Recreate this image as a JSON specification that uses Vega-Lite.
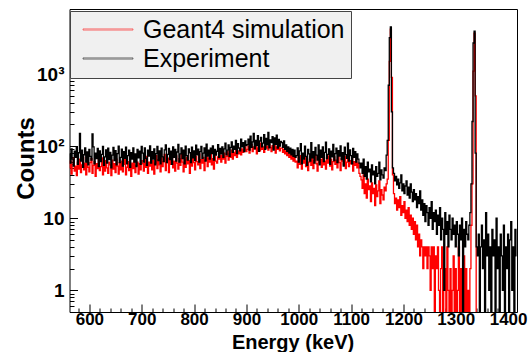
{
  "$schema": "https://vega.github.io/schema/vega-lite/v6.json",
  "width": 447.5,
  "height": 303,
  "autosize": {"type": "none"},
  "padding": {"left": 69.5, "top": 9, "right": 15, "bottom": 40},
  "data": {"values": [
{"e":562,"g":50,"x":78},{"e":564,"g":62,"x":58},{"e":566,"g":41,"x":92},{"e":568,"g":56,"x":66},{"e":570,"g":68,"x":53},
{"e":572,"g":45,"x":85},{"e":574,"g":53,"x":70},{"e":576,"g":39,"x":97},{"e":578,"g":60,"x":56},{"e":580,"g":48,"x":81},
{"e":582,"g":66,"x":150},{"e":584,"g":43,"x":62},{"e":586,"g":55,"x":88},{"e":588,"g":70,"x":51},{"e":590,"g":47,"x":76},
{"e":592,"g":58,"x":95},{"e":594,"g":40,"x":60},{"e":596,"g":63,"x":83},{"e":598,"g":51,"x":55},{"e":600,"g":44,"x":90},
{"e":602,"g":59,"x":72},{"e":604,"g":67,"x":64},{"e":606,"g":42,"x":148},{"e":608,"g":54,"x":98},{"e":610,"g":61,"x":57},
{"e":612,"g":38,"x":80},{"e":614,"g":57,"x":67},{"e":616,"g":49,"x":93},{"e":618,"g":65,"x":52},{"e":620,"g":46,"x":86},
{"e":622,"g":52,"x":61},{"e":624,"g":69,"x":77},{"e":626,"g":40,"x":99},{"e":628,"g":58,"x":54},{"e":630,"g":45,"x":71},
{"e":632,"g":63,"x":89},{"e":634,"g":50,"x":58},{"e":636,"g":42,"x":94},{"e":638,"g":60,"x":65},{"e":640,"g":55,"x":82},
{"e":642,"g":39,"x":50},{"e":644,"g":64,"x":75},{"e":646,"g":48,"x":96},{"e":648,"g":57,"x":63},{"e":650,"g":43,"x":87},
{"e":652,"g":66,"x":55},{"e":654,"g":53,"x":79},{"e":656,"g":41,"x":100},{"e":658,"g":59,"x":59},{"e":660,"g":47,"x":70},
{"e":662,"g":62,"x":91},{"e":664,"g":44,"x":53},{"e":666,"g":56,"x":84},{"e":668,"g":68,"x":68},{"e":670,"g":40,"x":97},
{"e":672,"g":51,"x":57},{"e":674,"g":61,"x":74},{"e":676,"g":46,"x":88},{"e":678,"g":55,"x":51},{"e":680,"g":38,"x":81},
{"e":682,"g":58,"x":66},{"e":684,"g":49,"x":95},{"e":686,"g":65,"x":60},{"e":688,"g":43,"x":78},{"e":690,"g":54,"x":52},
{"e":692,"g":60,"x":90},{"e":694,"g":41,"x":69},{"e":696,"g":57,"x":85},{"e":698,"g":47,"x":56},{"e":700,"g":63,"x":99},
{"e":702,"g":57,"x":80},{"e":704,"g":45,"x":60},{"e":706,"g":66,"x":95},{"e":708,"g":51,"x":68},{"e":710,"g":72,"x":54},
{"e":712,"g":42,"x":88},{"e":714,"g":60,"x":73},{"e":716,"g":53,"x":101},{"e":718,"g":70,"x":58},{"e":720,"g":47,"x":84},
{"e":722,"g":63,"x":66},{"e":724,"g":41,"x":92},{"e":726,"g":58,"x":55},{"e":728,"g":74,"x":79},{"e":730,"g":49,"x":99},
{"e":732,"g":65,"x":63},{"e":734,"g":55,"x":86},{"e":736,"g":44,"x":57},{"e":738,"g":69,"x":94},{"e":740,"g":52,"x":71},
{"e":742,"g":61,"x":61},{"e":744,"g":77,"x":89},{"e":746,"g":46,"x":104},{"e":748,"g":59,"x":59},{"e":750,"g":68,"x":77},
{"e":752,"g":43,"x":93},{"e":754,"g":64,"x":65},{"e":756,"g":56,"x":85},{"e":758,"g":71,"x":56},{"e":760,"g":50,"x":98},
{"e":762,"g":62,"x":70},{"e":764,"g":45,"x":90},{"e":766,"g":73,"x":62},{"e":768,"g":58,"x":83},{"e":770,"g":48,"x":106},
{"e":772,"g":67,"x":60},{"e":774,"g":54,"x":78},{"e":776,"g":76,"x":95},{"e":778,"g":60,"x":67},{"e":780,"g":44,"x":88},
{"e":782,"g":66,"x":57},{"e":784,"g":51,"x":100},{"e":786,"g":70,"x":74},{"e":788,"g":57,"x":64},{"e":790,"g":63,"x":92},
{"e":792,"g":42,"x":81},{"e":794,"g":75,"x":59},{"e":796,"g":53,"x":97},{"e":798,"g":68,"x":69},{"e":800,"g":59,"x":86},
{"e":802,"g":47,"x":63},{"e":804,"g":72,"x":103},{"e":806,"g":61,"x":76},{"e":808,"g":55,"x":91},{"e":810,"g":78,"x":60},
{"e":812,"g":49,"x":84},{"e":814,"g":65,"x":99},{"e":816,"g":58,"x":68},{"e":818,"g":70,"x":80},{"e":820,"g":46,"x":95},
{"e":822,"g":64,"x":62},{"e":824,"g":74,"x":107},{"e":826,"g":52,"x":73},{"e":828,"g":69,"x":88},{"e":830,"g":60,"x":66},
{"e":832,"g":77,"x":94},{"e":834,"g":55,"x":79},{"e":836,"g":67,"x":101},{"e":838,"g":48,"x":64},{"e":840,"g":73,"x":90},
{"e":842,"g":62,"x":75},{"e":844,"g":58,"x":85},{"e":846,"g":71,"x":105},{"e":848,"g":66,"x":70},{"e":850,"g":75,"x":93},
{"e":852,"g":60,"x":78},{"e":854,"g":75,"x":98},{"e":856,"g":66,"x":70},{"e":858,"g":80,"x":92},{"e":860,"g":58,"x":110},
{"e":862,"g":72,"x":76},{"e":864,"g":84,"x":88},{"e":866,"g":64,"x":104},{"e":868,"g":78,"x":72},{"e":870,"g":70,"x":96},
{"e":872,"g":88,"x":115},{"e":874,"g":66,"x":82},{"e":876,"g":82,"x":100},{"e":878,"g":74,"x":90},{"e":880,"g":90,"x":120},
{"e":882,"g":70,"x":79},{"e":884,"g":86,"x":108},{"e":886,"g":78,"x":94},{"e":888,"g":94,"x":86},{"e":890,"g":76,"x":125},
{"e":892,"g":92,"x":98},{"e":894,"g":82,"x":112},{"e":896,"g":88,"x":84},{"e":898,"g":98,"x":118},{"e":900,"g":84,"x":102},
{"e":902,"g":90,"x":105},{"e":904,"g":100,"x":125},{"e":906,"g":80,"x":88},{"e":908,"g":96,"x":138},{"e":910,"g":105,"x":96},
{"e":912,"g":84,"x":115},{"e":914,"g":98,"x":150},{"e":916,"g":92,"x":92},{"e":918,"g":108,"x":120},{"e":920,"g":78,"x":102},
{"e":922,"g":95,"x":140},{"e":924,"g":102,"x":85},{"e":926,"g":86,"x":118},{"e":928,"g":110,"x":132},{"e":930,"g":90,"x":98},
{"e":932,"g":98,"x":110},{"e":934,"g":82,"x":145},{"e":936,"g":104,"x":90},{"e":938,"g":94,"x":128},{"e":940,"g":100,"x":104},
{"e":942,"g":88,"x":155},{"e":944,"g":106,"x":95},{"e":946,"g":96,"x":122},{"e":948,"g":84,"x":112},{"e":950,"g":102,"x":136},
{"e":952,"g":92,"x":88},{"e":954,"g":108,"x":130},{"e":956,"g":80,"x":106},{"e":958,"g":98,"x":142},{"e":960,"g":90,"x":94},
{"e":962,"g":100,"x":124},{"e":964,"g":86,"x":100},{"e":966,"g":94,"x":116},{"e":968,"g":94,"x":112},{"e":970,"g":82,"x":96},
{"e":972,"g":90,"x":118},{"e":974,"g":78,"x":90},{"e":976,"g":86,"x":104},{"e":978,"g":74,"x":85},{"e":980,"g":82,"x":98},
{"e":982,"g":70,"x":80},{"e":984,"g":78,"x":94},{"e":986,"g":66,"x":76},{"e":988,"g":74,"x":90},{"e":990,"g":62,"x":72},
{"e":992,"g":70,"x":88},{"e":994,"g":60,"x":70},{"e":996,"g":62,"x":74},{"e":998,"g":50,"x":95},{"e":1000,"g":70,"x":60},
{"e":1002,"g":56,"x":86},{"e":1004,"g":74,"x":108},{"e":1006,"g":48,"x":57},{"e":1008,"g":64,"x":80},{"e":1010,"g":58,"x":66},
{"e":1012,"g":76,"x":100},{"e":1014,"g":52,"x":72},{"e":1016,"g":66,"x":54},{"e":1018,"g":46,"x":90},{"e":1020,"g":60,"x":78},
{"e":1022,"g":72,"x":62},{"e":1024,"g":54,"x":112},{"e":1026,"g":68,"x":69},{"e":1028,"g":49,"x":84},{"e":1030,"g":63,"x":58},
{"e":1032,"g":75,"x":96},{"e":1034,"g":57,"x":75},{"e":1036,"g":45,"x":64},{"e":1038,"g":70,"x":104},{"e":1040,"g":59,"x":55},
{"e":1042,"g":65,"x":88},{"e":1044,"g":51,"x":70},{"e":1046,"g":77,"x":98},{"e":1048,"g":55,"x":61},{"e":1050,"g":62,"x":82},
{"e":1052,"g":48,"x":114},{"e":1054,"g":69,"x":67},{"e":1056,"g":58,"x":77},{"e":1058,"g":73,"x":92},{"e":1060,"g":53,"x":56},
{"e":1062,"g":66,"x":85},{"e":1064,"g":47,"x":71},{"e":1066,"g":61,"x":106},{"e":1068,"g":71,"x":63},{"e":1070,"g":56,"x":79},
{"e":1072,"g":64,"x":94},{"e":1074,"g":50,"x":59},{"e":1076,"g":74,"x":87},{"e":1078,"g":59,"x":73},{"e":1080,"g":46,"x":101},
{"e":1082,"g":67,"x":65},{"e":1084,"g":62,"x":81},{"e":1086,"g":55,"x":53},{"e":1088,"g":72,"x":97},{"e":1090,"g":49,"x":76},
{"e":1092,"g":60,"x":68},{"e":1094,"g":68,"x":110},{"e":1096,"g":52,"x":62},{"e":1098,"g":63,"x":89},{"e":1100,"g":57,"x":74},
{"e":1102,"g":70,"x":57},{"e":1104,"g":45,"x":93},{"e":1106,"g":61,"x":70},{"e":1108,"g":54,"x":84},{"e":1110,"g":66,"x":60},
{"e":1112,"g":50,"x":78},{"e":1114,"g":58,"x":66},{"e":1116,"g":42,"x":58},{"e":1118,"g":38,"x":50},{"e":1120,"g":34,"x":58},
{"e":1122,"g":26,"x":42},{"e":1124,"g":40,"x":66},{"e":1126,"g":22,"x":38},{"e":1128,"g":30,"x":52},{"e":1130,"g":19,"x":35},
{"e":1132,"g":35,"x":60},{"e":1134,"g":25,"x":44},{"e":1136,"g":28,"x":48},{"e":1138,"g":17,"x":32},{"e":1140,"g":31,"x":55},
{"e":1142,"g":22,"x":40},{"e":1144,"g":26,"x":45},{"e":1146,"g":15,"x":30},{"e":1148,"g":29,"x":52},{"e":1150,"g":20,"x":38},
{"e":1152,"g":24,"x":42},{"e":1154,"g":33,"x":60},{"e":1156,"g":16,"x":34},{"e":1158,"g":25,"x":47},{"e":1160,"g":21,"x":40},
{"e":1162,"g":18,"x":36},{"e":1164,"g":27,"x":50},{"e":1166,"g":24,"x":46},{"e":1168,"g":30,"x":75},{"e":1170,"g":35,"x":120},
{"e":1172,"g":120,"x":700},{"e":1174,"g":1500,"x":3200},{"e":1176,"g":4200,"x":4500},{"e":1178,"g":900,"x":300},{"e":1180,"g":40,"x":50},
{"e":1182,"g":22,"x":42},{"e":1184,"g":16,"x":33},{"e":1186,"g":19,"x":38},{"e":1188,"g":13,"x":29},{"e":1190,"g":18,"x":35},
{"e":1192,"g":14,"x":26},{"e":1194,"g":20,"x":31},{"e":1196,"g":11,"x":40},{"e":1198,"g":15,"x":24},{"e":1200,"g":12,"x":30},
{"e":1202,"g":17,"x":22},{"e":1204,"g":10,"x":28},{"e":1206,"g":13,"x":33},{"e":1208,"g":9,"x":21},{"e":1210,"g":14,"x":27},
{"e":1212,"g":8,"x":19},{"e":1214,"g":11,"x":30},{"e":1216,"g":7,"x":23},{"e":1218,"g":10,"x":17},{"e":1220,"g":6,"x":25},
{"e":1222,"g":9,"x":18},{"e":1224,"g":5,"x":22},{"e":1226,"g":8,"x":14},{"e":1228,"g":4,"x":20},{"e":1230,"g":6,"x":16},
{"e":1232,"g":3,"x":24},{"e":1234,"g":5,"x":13},{"e":1236,"g":4,"x":18},{"e":1238,"g":2,"x":11},{"e":1240,"g":4,"x":16},
{"e":1242,"g":3,"x":9},{"e":1244,"g":4,"x":15},{"e":1246,"g":2,"x":12},{"e":1248,"g":4,"x":8},{"e":1250,"g":3,"x":14},
{"e":1252,"g":1,"x":10},{"e":1254,"g":4,"x":17},{"e":1256,"g":2,"x":7},{"e":1258,"g":4,"x":12},{"e":1260,"g":0,"x":9},
{"e":1262,"g":3,"x":13},{"e":1264,"g":2,"x":6},{"e":1266,"g":4,"x":11},{"e":1268,"g":1,"x":8},{"e":1270,"g":0,"x":14},
{"e":1272,"g":2,"x":5},{"e":1274,"g":4,"x":10},{"e":1276,"g":0,"x":7},{"e":1278,"g":1,"x":1},{"e":1280,"g":2,"x":12},
{"e":1282,"g":0,"x":6},{"e":1284,"g":4,"x":9},{"e":1286,"g":1,"x":4},{"e":1288,"g":0,"x":11},{"e":1290,"g":2,"x":7},
{"e":1292,"g":0,"x":5},{"e":1294,"g":1,"x":10},{"e":1296,"g":3,"x":6},{"e":1298,"g":0,"x":8},{"e":1300,"g":2,"x":4},
{"e":1302,"g":0,"x":9},{"e":1304,"g":1,"x":6},{"e":1306,"g":4,"x":3},{"e":1308,"g":0,"x":8},{"e":1310,"g":2,"x":5},
{"e":1312,"g":0,"x":10},{"e":1314,"g":1,"x":0},{"e":1316,"g":3,"x":7},{"e":1318,"g":0,"x":4},{"e":1320,"g":2,"x":9},
{"e":1322,"g":0,"x":6},{"e":1324,"g":1,"x":5},{"e":1326,"g":0,"x":8},{"e":1328,"g":2,"x":12},{"e":1330,"g":8,"x":30},
{"e":1332,"g":30,"x":220},{"e":1334,"g":1100,"x":2700},{"e":1336,"g":3700,"x":3950},{"e":1338,"g":500,"x":80},{"e":1340,"g":0,"x":4},
{"e":1342,"g":0,"x":3},{"e":1344,"g":0,"x":6},{"e":1346,"g":0,"x":0},{"e":1348,"g":0,"x":4},{"e":1350,"g":0,"x":8},
{"e":1352,"g":0,"x":2},{"e":1354,"g":0,"x":5},{"e":1356,"g":0,"x":0},{"e":1358,"g":0,"x":12},{"e":1360,"g":0,"x":3},
{"e":1362,"g":0,"x":6},{"e":1364,"g":0,"x":1},{"e":1366,"g":0,"x":4},{"e":1368,"g":0,"x":0},{"e":1370,"g":0,"x":7},
{"e":1372,"g":0,"x":3},{"e":1374,"g":0,"x":5},{"e":1376,"g":0,"x":0},{"e":1378,"g":0,"x":10},{"e":1380,"g":0,"x":2},
{"e":1382,"g":0,"x":4},{"e":1384,"g":0,"x":0},{"e":1386,"g":0,"x":6},{"e":1388,"g":0,"x":3},{"e":1390,"g":0,"x":1},
{"e":1392,"g":0,"x":8},{"e":1394,"g":0,"x":0},{"e":1396,"g":0,"x":4},{"e":1398,"g":0,"x":2},{"e":1400,"g":0,"x":6},
{"e":1402,"g":0,"x":0},{"e":1404,"g":0,"x":5},{"e":1406,"g":0,"x":9},{"e":1408,"g":0,"x":1},{"e":1410,"g":0,"x":4},
{"e":1412,"g":0,"x":0},{"e":1414,"g":0,"x":7},{"e":1416,"g":0,"x":3}
  ]},
  "encoding": {
    "x": {
      "field": "e", "type": "quantitative",
      "scale": {"domain": [562, 1417], "nice": false, "zero": false},
      "axis": {
        "title": "Energy (keV)",
        "values": [580,600,620,640,660,680,700,720,740,760,780,800,820,840,860,880,900,920,940,960,980,1000,1020,1040,1060,1080,1100,1120,1140,1160,1180,1200,1220,1240,1260,1280,1300,1320,1340,1360,1380,1400],
        "labelExpr": "datum.value % 100 === 0 ? format(datum.value, 'd') : ''",
        "tickSize": {"condition": {"test": "datum.value % 100 === 0", "value": -8}, "value": -4},
        "labelPadding": 7,
        "labelFontSize": 17,
        "labelFlush": false,
        "labelOverlap": false,
        "titleFontSize": 20,
        "titleX": 223,
        "titleY": 36.5,
        "titleBaseline": "alphabetic",
        "titleAlign": "center"
      }
    }
  },
  "layer": [
    {
      "mark": {"type": "line", "interpolate": "step", "strokeWidth": 1.3, "clip": true, "invalid": "show"},
      "encoding": {
        "y": {
          "field": "g", "type": "quantitative",
          "scale": {"type": "log", "domain": [0.4265, 8000], "range": [308, 0], "clamp": true, "nice": false},
          "axis": {
            "title": "Counts",
            "values": [0.6,0.7,0.8,0.9,1,2,3,4,5,6,7,8,9,10,20,30,40,50,60,70,80,90,100,200,300,400,500,600,700,800,900,1000,2000,3000,4000,5000,6000,7000],
            "labelExpr": "datum.value == 1 ? '1' : datum.value == 10 ? '10' : datum.value == 100 ? '10²' : datum.value == 1000 ? '10³' : ''",
            "tickSize": {"condition": {"test": "indexof([1,10,100,1000], datum.value) >= 0", "value": -8}, "value": -4.5},
            "labelPadding": 13.5,
            "labelFontSize": 19,
            "labelOverlap": false,
            "labelBound": false,
            "titleFontSize": 24,
            "titleX": -36.5,
            "titleY": 149,
            "titleAngle": -90,
            "titleBaseline": "alphabetic",
            "titleAlign": "center"
          }
        },
        "color": {
          "datum": "Geant4 simulation",
          "scale": {"domain": ["Geant4 simulation", "Experiment"], "range": ["#ff0000", "#000000"]},
          "legend": {
            "encode": {"symbols": {"update": {
              "fill": {"value": {"expr": "datum.value == 'Experiment' ? '#000000' : '#ff0000'"}},
              "stroke": {"value": {"expr": "datum.value == 'Experiment' ? '#000000' : '#ff0000'"}}
            }}}
          }
        }
      }
    },
    {
      "mark": {"type": "line", "interpolate": "step", "strokeWidth": 1.3, "clip": true, "invalid": "show"},
      "encoding": {
        "y": {
          "field": "x", "type": "quantitative",
          "axis": {
            "title": "Counts",
            "values": [0.6,0.7,0.8,0.9,1,2,3,4,5,6,7,8,9,10,20,30,40,50,60,70,80,90,100,200,300,400,500,600,700,800,900,1000,2000,3000,4000,5000,6000,7000],
            "labelExpr": "datum.value == 1 ? '1' : datum.value == 10 ? '10' : datum.value == 100 ? '10²' : datum.value == 1000 ? '10³' : ''",
            "tickSize": {"condition": {"test": "indexof([1,10,100,1000], datum.value) >= 0", "value": -8}, "value": -4.5},
            "labelPadding": 13.5,
            "labelFontSize": 19,
            "labelOverlap": false,
            "labelBound": false,
            "titleFontSize": 24,
            "titleX": -36.5,
            "titleY": 149,
            "titleAngle": -90,
            "titleBaseline": "alphabetic",
            "titleAlign": "center"
          }
        },
        "color": {
          "datum": "Experiment",
          "legend": {
            "encode": {"symbols": {"update": {
              "fill": {"value": {"expr": "datum.value == 'Experiment' ? '#000000' : '#ff0000'"}},
              "stroke": {"value": {"expr": "datum.value == 'Experiment' ? '#000000' : '#ff0000'"}}
            }}}
          }
        }
      }
    }
  ],
  "config": {
    "font": "Liberation Sans",
    "view": {"stroke": "black", "strokeWidth": 1},
    "axis": {
      "domain": false, "grid": false, "tickColor": "black", "tickWidth": 1,
      "labelColor": "black", "titleColor": "black",
      "labelFont": "Liberation Sans", "titleFont": "Liberation Sans",
      "labelFontWeight": "bold", "titleFontWeight": "bold"
    },
    "legend": {
      "orient": "none", "legendX": 0.5, "legendY": 2, "direction": "vertical",
      "title": null, "fillColor": "#f0f0f0", "strokeColor": "#444444", "padding": 6,
      "symbolType": "M-5,-0.12H5V0.12H-5Z", "symbolSize": 100, "symbolStrokeWidth": 0.5,
      "symbolOffset": 19.5, "labelOffset": 22.5, "labelFontSize": 25, "labelFont": "Liberation Sans",
      "labelColor": "black", "rowPadding": 3, "labelLimit": 0
    }
  }
}
